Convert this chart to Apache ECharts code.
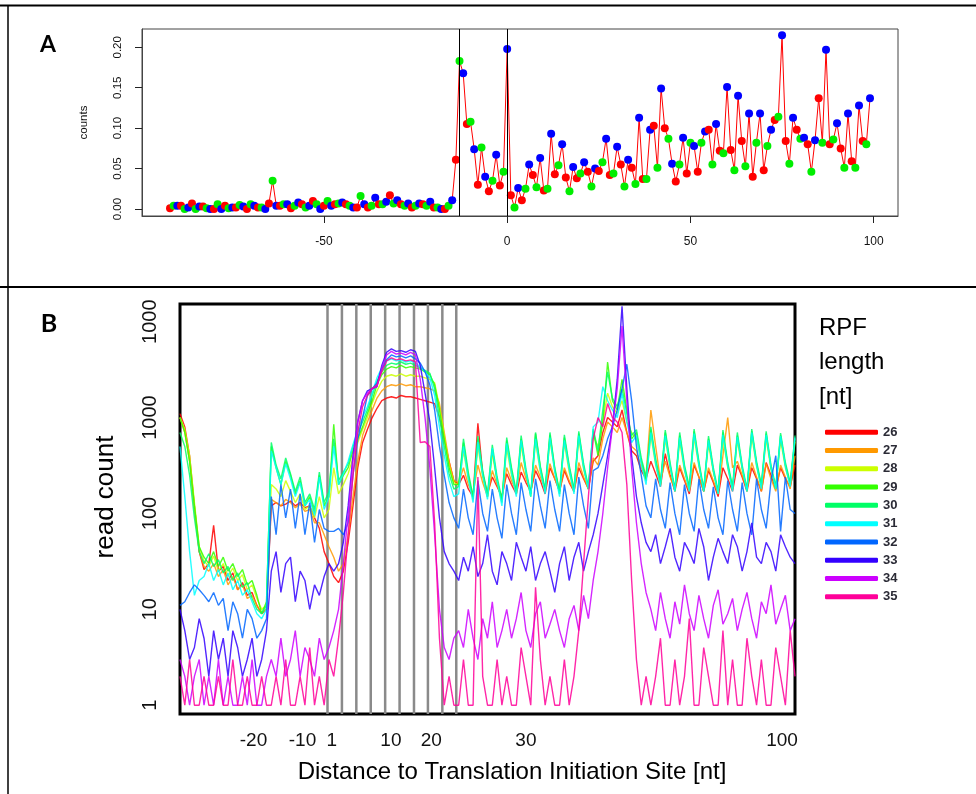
<!DOCTYPE html>
<html><head><meta charset="utf-8">
<script src="https://cdn.jsdelivr.net/npm/echarts@6/dist/echarts.min.js"></script>
<style>html,body{margin:0;padding:0;background:#fff}#c{width:976px;height:794px}</style>
</head><body><div id="c"></div>
<script>
// ---------- Panel A data ----------
const aStart = -92; // first position (nt); one value per nt
const aCounts = [
  0.001,0.004,0.004,0.004,0.000,0.002,0.007,0.000,0.003,0.003,
  0.001,0.000,0.000,0.006,0.000,0.004,0.001,0.002,0.002,0.005,
  0.003,0.000,0.006,0.004,0.002,0.002,0.000,0.007,0.035,0.004,
  0.004,0.006,0.006,0.001,0.004,0.008,0.006,0.002,0.004,0.010,
  0.006,0.000,0.004,0.010,0.004,0.006,0.007,0.008,0.006,0.004,
  0.002,0.002,0.016,0.006,0.002,0.004,0.014,0.006,0.006,0.009,
  0.017,0.007,0.011,0.006,0.004,0.007,0.002,0.004,0.007,0.006,
  0.004,0.009,0.002,0.002,0.000,0.000,0.004,0.011,
  0.061,0.183,0.168,0.105,0.108,0.074,0.030,0.076,0.040,0.022,0.035,0.067,0.029,0.046,
  0.198,0.017,0.002,0.026,0.011,0.025,0.055,0.042,0.027,0.063,
  0.023,0.025,0.093,0.043,0.054,0.080,0.039,0.022,0.052,0.038,
  0.044,0.058,0.046,0.028,0.050,0.047,0.058,0.087,0.042,0.044,
  0.077,0.055,0.028,0.061,0.051,0.031,0.113,0.037,0.037,0.098,
  0.103,0.051,0.149,0.100,0.087,0.056,0.034,0.055,0.088,0.044,
  0.082,0.078,0.046,0.082,0.096,0.098,0.055,0.105,0.072,0.069,
  0.151,0.073,0.048,0.140,0.084,0.053,0.118,0.040,0.082,0.118,
  0.048,0.078,0.098,0.110,0.114,0.215,0.084,0.056,0.113,0.098,
  0.087,0.088,0.080,0.046,0.085,0.137,0.082,0.197,0.080,0.086,
  0.106,0.075,0.051,0.118,0.059,0.051,0.128,0.084,0.080,0.137
];
const aMarkLines = [-13, 0];
const aXTicks = [-50, 0, 50, 100];
const aYTicks = [0, 0.05, 0.10, 0.15, 0.20];

// ---------- Panel B data (one value per plotted position, left to right) ----------
const bLengths = ['26','27','28','29','30','31','32','33','34','35'];
const b26 = [1100,800,400,120,40,
  26,30,75,25,28,20,24,16,19,14,15,11,9,10,
  120,130,120,125,135,120,130,115,120,90,70,40,30,
  22,19,25,50,120,300,550,750,1000,1250,1500,1600,
  1650,1600,1700,1650,1650,1600,
  1550,1500,1450,1400,1000,600,350,220,
  200,250,180,150,870,260,160,240,190,150,260,200,160,270,210,170,280,220,160,300,230,170,280,210,170,300,230,180,350,400,
  700,1000,900,800,1200,700,450,400,280,230,
  350,260,190,420,250,170,300,220,160,320,240,170,280,210,150,300,230,170,320,240,170,300,230,170,340,250,180,300,230,190,320];
const b27 = [1000,700,350,110,40,
  28,25,30,22,26,18,22,16,18,13,14,11,9,10,
  140,130,120,140,130,115,125,105,110,80,80,60,45,
  35,25,30,60,150,350,650,900,1200,1600,1900,2100,
  2200,2150,2250,2150,2200,2100,
  2100,2050,2000,1900,1400,700,350,220,
  210,300,200,160,320,210,150,280,200,140,300,220,170,340,230,170,320,240,180,330,230,170,300,220,170,340,240,180,380,320,
  600,900,800,700,1000,700,500,450,300,250,
  1200,500,220,350,240,180,320,230,170,340,240,170,300,220,160,400,1000,300,350,250,180,340,240,170,330,230,170,320,240,180,400];
const b28 = [1000,750,400,130,45,
  32,28,36,25,30,22,27,20,23,16,18,13,10,11,
  200,180,150,220,170,130,160,110,120,90,150,90,110,
  300,160,200,260,380,550,750,1000,1400,1900,2400,2700,
  2800,2700,2850,2700,2800,2700,
  2700,2600,2500,2300,1300,650,320,210,
  200,450,230,150,500,240,150,420,220,140,480,250,160,520,260,160,560,270,170,580,280,170,540,270,170,600,290,180,650,500,
  900,1800,1300,1100,1500,900,700,600,350,230,
  650,320,200,600,300,180,560,280,180,620,310,180,530,270,170,600,300,180,580,290,180,640,310,190,600,290,190,580,300,200,560];
const b29 = [1000,700,350,120,45,
  35,30,40,28,35,25,30,22,26,18,20,14,9,12,
  500,300,200,350,250,160,220,120,150,100,250,120,150,
  850,200,250,300,450,600,800,1100,1500,2200,2800,3200,
  3400,3300,3500,3300,3400,3300,
  3200,3000,2800,2200,1200,600,300,200,
  200,550,250,140,600,260,150,470,220,130,580,280,160,600,270,150,680,300,170,660,290,160,620,300,170,680,310,180,730,400,
  900,3800,1500,1200,2500,1200,600,700,350,220,
  750,350,200,700,320,170,650,300,180,720,330,170,600,280,160,700,320,180,650,300,170,720,330,190,680,300,180,650,320,200,600];
const b30 = [700,500,250,90,40,
  30,38,28,33,24,28,20,24,17,19,13,10,9,11,
  550,320,230,380,260,170,240,130,160,110,270,130,170,
  600,220,270,330,500,700,900,1200,1700,2400,3000,3500,
  3700,3600,3800,3600,3700,3500,
  3300,3100,2900,2000,1000,500,260,180,
  190,600,270,150,640,280,160,520,240,140,620,300,170,650,290,160,700,310,180,700,300,170,660,320,180,720,330,190,760,450,
  1200,3000,1600,1300,2000,1100,650,750,380,240,
  800,370,210,740,340,180,700,320,190,760,350,180,640,300,170,740,340,190,700,320,180,760,350,200,720,320,190,690,340,210,650];
const b31 = [500,150,40,14,20,
  22,30,20,26,18,24,16,20,14,16,12,9,8,10,
  450,300,200,330,230,150,210,120,140,95,240,110,150,
  500,200,260,350,520,750,1000,1300,1800,2600,3300,3900,
  4100,3900,4000,3800,3900,3700,
  3400,3000,2600,1700,800,400,220,150,
  160,500,230,130,560,250,140,480,220,120,540,260,150,580,270,150,600,280,160,620,270,150,580,290,160,650,300,180,800,900,
  2100,1500,1200,1000,1800,900,550,650,330,200,
  700,330,190,650,310,170,620,290,170,680,320,170,580,280,160,660,310,170,630,300,170,700,320,180,660,300,180,640,310,190,620];
const b32 = [11,12,15,18,16,
  14,12,15,11,13,6,12,9,5,10,8,5,6,8,
  150,60,200,90,180,70,160,60,130,50,110,70,65,
  65,70,60,80,250,600,1000,1700,2000,2300,3200,4000,
  4500,4300,4400,4200,4400,4100,
  3700,3000,2200,1200,500,250,130,90,
  70,180,90,60,220,100,65,180,90,55,200,100,60,210,110,65,230,120,70,220,110,65,200,100,60,240,120,70,280,300,
  400,600,800,1200,2000,3600,1500,500,250,120,
  90,230,110,70,210,100,60,200,100,65,230,110,70,190,90,60,220,110,65,210,100,60,230,110,70,220,400,65,240,110,100];
const b33 = [10,6,3,4,8,
  5,2,6,3,5,2,6,4,2,3,5,2,3,6,
  25,40,15,30,35,12,25,20,10,18,14,22,30,
  25,30,50,120,400,900,1500,1900,2000,2100,3500,4800,
  5200,4900,5000,4800,5100,4900,
  3500,1800,900,300,90,40,30,25,
  20,35,25,45,22,30,60,25,18,40,30,20,50,35,25,45,20,30,40,25,15,30,45,20,35,50,25,40,60,100,
  200,400,800,2500,14500,2000,400,150,80,50,
  40,60,30,45,70,35,25,50,40,30,70,45,20,35,55,40,30,60,45,25,40,80,35,30,50,40,25,60,45,35,30];
const b34 = [3,2,1,2,3,
  1,2,1,3,1,2,1,1,2,1,3,1,1,2,
  3,2,5,2,3,6,2,4,3,2,5,3,4,
  6,10,30,100,350,900,1500,1800,2000,2100,3300,4500,
  4900,4600,4700,4500,4800,4500,
  2500,1000,300,60,10,4,3,5,
  6,4,10,5,3,8,5,12,4,6,10,5,8,15,6,4,9,12,5,7,10,6,4,8,11,6,14,8,20,40,
  100,300,800,2000,9000,1500,300,80,30,15,
  10,6,15,8,5,12,7,18,9,6,14,8,5,11,16,7,9,13,6,10,15,8,5,12,9,18,7,10,14,6,8];
const b35 = [2,1,3,1,1,
  2,1,1,2,1,1,3,1,1,2,1,1,2,1,
  1,2,1,3,1,1,2,1,4,1,2,1,3,
  2,5,15,60,250,700,1300,1700,2000,2200,3000,3900,
  4200,4000,4100,3900,4000,3800,
  550,560,500,80,5,1,2,1,
  1,3,1,1,240,2,1,1,3,1,2,1,1,4,2,1,17,3,1,2,1,1,3,1,2,6,30,150,600,1000,
  800,1400,1000,900,700,200,20,3,1,2,
  1,2,5,1,1,3,1,2,8,1,1,4,2,1,1,6,1,3,1,1,5,2,1,3,1,1,4,2,1,6,2];
const bSeriesValues = [b26,b27,b28,b29,b30,b31,b32,b33,b34,b35];
const bXTickPos = [15.3, 25.5, 31.6, 43.9, 52.3, 72.0, 125.3];
const bXTickLabels = ['-20','-10','1','10','20','30','100'];
const bYTickVals = [1, 10, 100, 1000, 10000];
const bYTickLabels = ['1','10','100','1000','1000'];
const bCodonLines = [30.7, 33.7, 36.7, 39.7, 42.7, 45.7, 48.7, 51.6, 54.6, 57.5];

// ---------- styles ----------
const frameColors = ['#0000FF', '#FF0000', '#00EE00'];
const bColors = ['#FF0000','#FF9900','#CCFF00','#33FF00','#00FF66','#00FFFF','#0066FF','#3300FF','#CC00FF','#FF0099'];
const FONT = '"Liberation Sans", Arial, sans-serif';
const B_YMIN = 0.81, B_YMAX = 15300;

const chart = echarts.init(document.getElementById('c'), null, {renderer: 'canvas'});

const aData = aCounts.map((v, i) => {
  const x = aStart + i;
  return {value: [x, v], itemStyle: {color: frameColors[((x % 3) + 3) % 3]}};
});

const bSeries = bSeriesValues.map((vals, k) => ({
  type: 'line', name: bLengths[k], xAxisIndex: 1, yAxisIndex: 1,
  data: vals.map((v, i) => [i, v]),
  showSymbol: false, color: bColors[k],
  lineStyle: {width: 1.4, color: bColors[k], opacity: 0.85},
  z: 3, animation: false, silent: true
}));

chart.setOption({
  animation: false,
  grid: [
    {left: 142, top: 29, width: 756, height: 187, show: true, borderColor: '#444', borderWidth: 1},
    {left: 180, top: 304, width: 615, height: 410, show: true, borderColor: '#000', borderWidth: 3}
  ],
  xAxis: [
    {type: 'value', gridIndex: 0, min: -99.64, max: 106.64,
     axisLine: {show: true, onZero: false, lineStyle: {color: '#444', width: 1}}, splitLine: {show: false},
     axisTick: {show: true, inside: false, length: 7, customValues: aXTicks, lineStyle: {color: '#222', width: 1}},
     axisLabel: {customValues: aXTicks, margin: 20, fontSize: 12, color: '#111', fontFamily: FONT}},
    {type: 'value', gridIndex: 1, min: 0, max: 128,
     axisLine: {show: false, onZero: false}, splitLine: {show: false}, axisTick: {show: false},
     axisLabel: {customValues: bXTickPos, margin: 17, fontSize: 19, color: '#111', fontFamily: FONT,
       formatter: v => {
         let best = 0;
         bXTickPos.forEach((p, j) => { if (Math.abs(p - v) < Math.abs(bXTickPos[best] - v)) best = j; });
         return bXTickLabels[best];
       }}}
  ],
  yAxis: [
    {type: 'value', gridIndex: 0, min: -0.0086, max: 0.2226,
     axisLine: {show: true, onZero: false, lineStyle: {color: '#444', width: 1}}, splitLine: {show: false},
     axisTick: {show: true, inside: false, length: 7, customValues: aYTicks, lineStyle: {color: '#222', width: 1}},
     axisLabel: {customValues: aYTicks, rotate: 90, margin: 18, fontSize: 11.5, color: '#111', fontFamily: FONT,
       formatter: v => v.toFixed(2)},
     name: 'counts', nameLocation: 'middle', nameGap: 52, nameRotate: 90,
     nameTextStyle: {fontSize: 11.5, color: '#111', fontFamily: FONT}},
    {type: 'log', gridIndex: 1, logBase: 10, min: B_YMIN, max: B_YMAX,
     axisLine: {show: false, onZero: false}, splitLine: {show: false}, axisTick: {show: false},
     minorTick: {show: false}, minorSplitLine: {show: false},
     axisLabel: {rotate: 90, margin: 20, fontSize: 20, color: '#111', fontFamily: FONT,
       formatter: v => {
         const lv = Math.log10(v);
         for (let j = 0; j < bYTickVals.length; j++) {
           if (Math.abs(lv - Math.log10(bYTickVals[j])) < 0.01) return bYTickLabels[j];
         }
         return '';
       }}}
  ],
  legend: {
    data: bLengths, orient: 'vertical', left: 820, top: 420,
    itemWidth: 53, itemHeight: 5, itemGap: 4, icon: 'roundRect', selectedMode: false,
    textStyle: {fontSize: 13, fontWeight: 'bold', color: '#2b2b36', fontFamily: FONT, lineHeight: 14.3}
  },
  series: [
    {type: 'line', xAxisIndex: 0, yAxisIndex: 0, data: aData,
     showSymbol: true, showAllSymbol: true, symbol: 'circle', symbolSize: 8,
     color: '#FF0000', lineStyle: {color: '#FF0000', width: 1}, silent: true, z: 3,
     markLine: {symbol: 'none', silent: true, label: {show: false},
       lineStyle: {color: '#000', width: 1, type: 'solid'},
       data: aMarkLines.map(x => ({xAxis: x}))}},
    {type: 'custom', xAxisIndex: 1, yAxisIndex: 1, z: 1, silent: true,
     data: bCodonLines.map(x => [x, 1]),
     encode: {x: 0, y: 1},
     renderItem: (params, api) => {
       const t = api.coord([api.value(0), B_YMAX]);
       const b = api.coord([api.value(0), B_YMIN]);
       return {type: 'line', shape: {x1: t[0], y1: t[1], x2: b[0], y2: b[1]},
               style: {stroke: '#8a8a8a', lineWidth: 2.5}};
     }},
    ...bSeries
  ],
  graphic: [
    {type: 'line', shape: {x1: 0, y1: 5.5, x2: 976, y2: 5.5}, style: {stroke: '#000', lineWidth: 2}},
    {type: 'line', shape: {x1: 0, y1: 287, x2: 976, y2: 287}, style: {stroke: '#000', lineWidth: 2}},
    {type: 'line', shape: {x1: 8, y1: 5, x2: 8, y2: 794}, style: {stroke: '#000', lineWidth: 1.5}},
    {type: 'text', x: 48, y: 45, style: {text: 'A', font: 'bold 23px Lato, "Open Sans", sans-serif', fill: '#000', textAlign: 'center', textVerticalAlign: 'middle'}},
    {type: 'text', x: 49, y: 324, style: {text: 'B', font: 'bold 25px Lato, "Open Sans", sans-serif', fill: '#000', textAlign: 'center', textVerticalAlign: 'middle'}},
    {type: 'text', x: 106, y: 497, rotation: Math.PI / 2, style: {text: 'read count', font: '26px "Liberation Sans", Arial, sans-serif', fill: '#000', textAlign: 'center', textVerticalAlign: 'middle'}},
    {type: 'text', x: 512, y: 772, style: {text: 'Distance to Translation Initiation Site [nt]', font: '24px "Liberation Sans", Arial, sans-serif', fill: '#000', textAlign: 'center', textVerticalAlign: 'middle'}},
    {type: 'text', x: 819, y: 328, style: {text: 'RPF', font: '24px "Liberation Sans", Arial, sans-serif', fill: '#000', textVerticalAlign: 'middle'}},
    {type: 'text', x: 819, y: 362, style: {text: 'length', font: '24px "Liberation Sans", Arial, sans-serif', fill: '#000', textVerticalAlign: 'middle'}},
    {type: 'text', x: 819, y: 397, style: {text: '[nt]', font: '24px "Liberation Sans", Arial, sans-serif', fill: '#000', textVerticalAlign: 'middle'}}
  ]
});
</script>
</body></html>
